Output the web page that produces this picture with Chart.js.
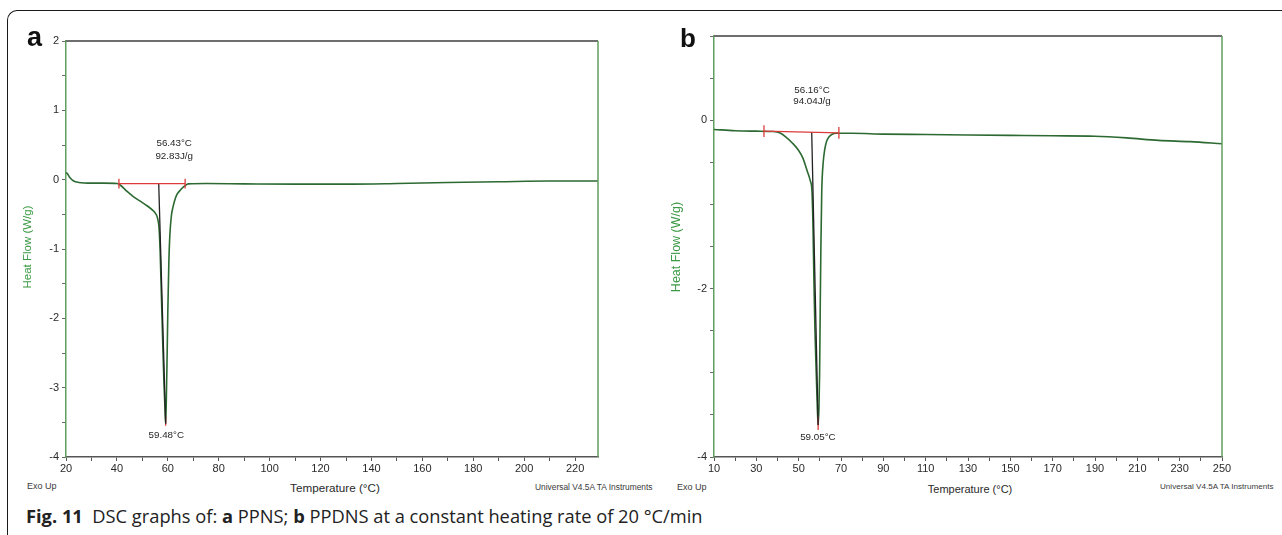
<!DOCTYPE html>
<html>
<head>
<meta charset="utf-8">
<script src="https://cdn.jsdelivr.net/npm/chart.js@4.4.1/dist/chart.umd.min.js"></script>
<style>
  html, body { margin: 0; padding: 0; background: #fff; }
  #page { position: relative; width: 1282px; height: 535px; overflow: hidden; font-family: "Liberation Sans", Arial, sans-serif; }
  #frame { position: absolute; left: 7px; top: 10px; width: 1300px; height: 540px;
           border-left: 1.5px solid #1a1a1a; border-top: 1.5px solid #1a1a1a; border-top-left-radius: 10px; }
  canvas { position: absolute; top: 0; }
  .t { position: absolute; white-space: nowrap; line-height: 1; }
  .letter { font-weight: bold; color: #111; }
  .ylab { color: #3c9a46; transform: translate(-50%, -50%) rotate(-90deg); }
  .small { color: #3a3a3a; transform: translateY(-50%); }
  .xlab { color: #2a2a2a; transform: translate(-50%, -50%); }
  .cap { font-family: "Open Sans", sans-serif; color: #222; }
</style>
</head>
<body>
<div id="page">
  <div id="frame"></div>
  <canvas id="chartA" width="640" height="480" style="left:0"></canvas>
  <canvas id="chartB" width="642" height="480" style="left:640px"></canvas>

  <div class="t letter" style="left:27px; top:24px; font-size:27px;">a</div>
  <div class="t letter" style="left:680px; top:25px; font-size:26px;">b</div>

  <div class="t ylab" style="left:28px; top:247px; font-size:11.5px;">Heat Flow (W/g)</div>
  <div class="t ylab" style="left:676px; top:247px; font-size:12.5px;">Heat Flow (W/g)</div>

  <div class="t small" style="left:27px; top:486px; font-size:9px;">Exo Up</div>
  <div class="t small" style="left:677px; top:487px; font-size:9px;">Exo Up</div>

  <div class="t xlab" style="left:335px; top:488px; font-size:11.7px;">Temperature (°C)</div>
  <div class="t xlab" style="left:970px; top:489px; font-size:11px;">Temperature (°C)</div>

  <div class="t small" style="left:535px; top:487px; font-size:8.4px;">Universal V4.5A TA Instruments</div>
  <div class="t small" style="left:1160px; top:487px; font-size:8.1px;">Universal V4.5A TA Instruments</div>

  <div class="t cap" style="left:26px; top:507px; font-size:18.3px;"><b>Fig. 11</b>&nbsp;&nbsp;DSC graphs of: <b>a</b> PPNS; <b>b</b> PPDNS at a constant heating rate of 20 °C/min</div>
</div>

<script>
// panel a (PPNS) - heat flow curve
const A_TEMP = [20, 20.5, 21.5, 23, 25, 30, 35, 40, 41, 44, 47, 50, 52, 54, 55, 56, 56.6, 57, 57.5, 58, 58.5, 58.9, 59.15,
  59.4, 59.7, 60.0, 60.4, 60.8, 61.4, 62, 62.7, 63.5, 64.7, 65.7, 66.7, 68, 75, 90, 110, 130, 150, 170, 190, 210, 229];
const A_FLOW = [0.1, 0.09, 0.03, -0.02, -0.04, -0.05, -0.05, -0.055, -0.07, -0.17, -0.26, -0.33, -0.38, -0.44, -0.48, -0.56, -0.72, -1.05, -1.7, -2.35, -2.95, -3.3, -3.52,
  -3.2, -2.6, -1.9, -1.2, -0.8, -0.52, -0.4, -0.3, -0.22, -0.16, -0.12, -0.09, -0.06, -0.055, -0.06, -0.065, -0.065, -0.055, -0.04, -0.03, -0.02, -0.02];
const A_LIMITS = [40.8, 66.8];
const A_BASE = [-0.058, -0.058];
const A_ONSET = [56.43, -0.058];
const A_PEAK = [59.15, -3.52];
const A_TIP = [-3.42, -3.55];
const A_NOTES = [
  { text: "56.43°C", x: 62.5, y: 0.52 },
  { text: "92.83J/g", x: 62.5, y: 0.33 },
  { text: "59.48°C", x: 59.4, y: -3.68 }
];

// panel b (PPDNS)
const B_TEMP = [10, 20, 30, 38, 41, 44, 47, 50, 52, 54, 55.5, 56.3, 56.8, 57.2, 57.7, 58.3, 58.8, 59.2, 59.6, 59.9, 60.2, 60.5, 60.9,
  61.6, 62.3, 63.2, 64.3, 65.6, 68, 75, 90, 110, 130, 150, 170, 190, 205, 220, 235, 250];
const B_FLOW = [-0.11, -0.125, -0.13, -0.135, -0.15, -0.2, -0.27, -0.36, -0.45, -0.6, -0.72, -0.85, -1.3, -1.9, -2.5, -3.0, -3.4, -3.62, -3.4, -3.0, -2.2, -1.5, -0.85,
  -0.5, -0.35, -0.25, -0.2, -0.17, -0.155, -0.155, -0.165, -0.17, -0.175, -0.18, -0.185, -0.19, -0.21, -0.24, -0.255, -0.28];
const B_LIMITS = [33.6, 69];
const B_BASE = [-0.13, -0.15];
const B_ONSET = [56.16, -0.14];
const B_PEAK = [59.2, -3.62];
const B_TIP = [-3.52, -3.68];
const B_NOTES = [
  { text: "56.16°C", x: 56.3, y: 0.35 },
  { text: "94.04J/g", x: 56.3, y: 0.22 },
  { text: "59.05°C", x: 59.1, y: -3.77 }
];

const GREEN = "#2c6a32";
const AXIS_GREEN = "#5f9f5f";
const RED = "#dd3b3b";
const TICK_FONT = { family: "Liberation Sans", size: 11 };

function pts(xs, ys) {
  return xs.map((x, i) => ({ x, y: ys[i] }));
}

function seg(p, q, color, width) {
  return {
    data: [{ x: p[0], y: p[1] }, { x: q[0], y: q[1] }],
    borderColor: color, borderWidth: width, pointRadius: 0, tension: 0, order: 1
  };
}

const boxPlugin = {
  id: "box",
  afterDatasetsDraw(chart) {
    const { ctx, chartArea: a } = chart;
    ctx.save();
    ctx.lineWidth = 2;
    ctx.strokeStyle = "#6e6e6e";
    ctx.beginPath(); ctx.moveTo(a.left, a.top); ctx.lineTo(a.right, a.top); ctx.stroke();
    ctx.lineWidth = 1.5;
    ctx.strokeStyle = AXIS_GREEN;
    ctx.beginPath(); ctx.moveTo(a.right, a.top); ctx.lineTo(a.right, a.bottom); ctx.stroke();
    ctx.restore();
  }
};

const notePlugin = {
  id: "notes",
  afterDatasetsDraw(chart, args, opts) {
    const { ctx, scales } = chart;
    ctx.save();
    ctx.font = '9.8px "Liberation Sans"';
    ctx.fillStyle = "#262626";
    ctx.textAlign = "center";
    ctx.textBaseline = "middle";
    for (const n of opts.items || []) {
      ctx.fillText(n.text, scales.x.getPixelForValue(n.x), scales.y.getPixelForValue(n.y));
    }
    ctx.restore();
  }
};

function makePanel(el, d) {
  return new Chart(el, {
    type: "line",
    data: {
      datasets: [
        { data: pts(d.temp, d.flow), borderColor: GREEN, borderWidth: 1.6, pointRadius: 0,
          cubicInterpolationMode: "monotone", order: 2 },
        seg([d.limits[0], d.base[0]], [d.limits[1], d.base[1]], RED, 1.3),
        seg([d.limits[0], d.base[0] - 0.07], [d.limits[0], d.base[0] + 0.07], RED, 1.3),
        seg([d.limits[1], d.base[1] - 0.07], [d.limits[1], d.base[1] + 0.07], RED, 1.3),
        seg(d.onset, d.peak, "#222", 1.3),
        seg([d.peak[0], d.tip[0]], [d.peak[0], d.tip[1]], RED, 1.3)
      ]
    },
    options: {
      responsive: false,
      animation: false,
      devicePixelRatio: 1,
      layout: { padding: d.padding },
      plugins: { legend: { display: false }, tooltip: { enabled: false }, notes: { items: d.notes } },
      scales: {
        x: {
          type: "linear", min: d.xMin, max: d.xMax,
          border: { color: "#555", width: 1.5 },
          grid: { drawOnChartArea: false, tickLength: 4, color: "#555", lineWidth: 1 },
          ticks: {
            stepSize: 10, autoSkip: false, includeBounds: false, maxRotation: 0, padding: 1,
            color: "#2a2a2a", font: TICK_FONT,
            callback: v => d.xLabel(v) ? String(v) : ""
          },
          afterFit: s => { s.height = 23; }
        },
        y: {
          type: "linear", min: d.yMin, max: d.yMax,
          border: { color: AXIS_GREEN, width: 1.5 },
          grid: { drawOnChartArea: false, tickLength: 4, color: "#666", lineWidth: 1 },
          ticks: {
            stepSize: 0.5, autoSkip: false, includeBounds: false, padding: 3,
            color: "#2a2a2a", font: TICK_FONT,
            callback: v => d.yLabel(v) ? String(v) : ""
          },
          afterFit: s => { s.width = d.yWidth; }
        }
      }
    },
    plugins: [boxPlugin, notePlugin]
  });
}

makePanel(document.getElementById("chartA"), {
  temp: A_TEMP, flow: A_FLOW, limits: A_LIMITS, base: A_BASE, onset: A_ONSET, peak: A_PEAK, tip: A_TIP, notes: A_NOTES,
  xMin: 20, xMax: 229, yMin: -4, yMax: 2,
  xLabel: v => v % 20 === 0,
  yLabel: v => Number.isInteger(v),
  yWidth: 66,
  padding: { top: 41, right: 42, left: 0, bottom: 0 }
});

makePanel(document.getElementById("chartB"), {
  temp: B_TEMP, flow: B_FLOW, limits: B_LIMITS, base: B_BASE, onset: B_ONSET, peak: B_PEAK, tip: B_TIP, notes: B_NOTES,
  xMin: 10, xMax: 250, yMin: -4, yMax: 1,
  xLabel: v => (v - 10) % 20 === 0,
  yLabel: v => Number.isInteger(v) && Math.abs(v) % 2 === 0,
  yWidth: 74,
  padding: { top: 36, right: 60, left: 0, bottom: 0 }
});
</script>
</body>
</html>
